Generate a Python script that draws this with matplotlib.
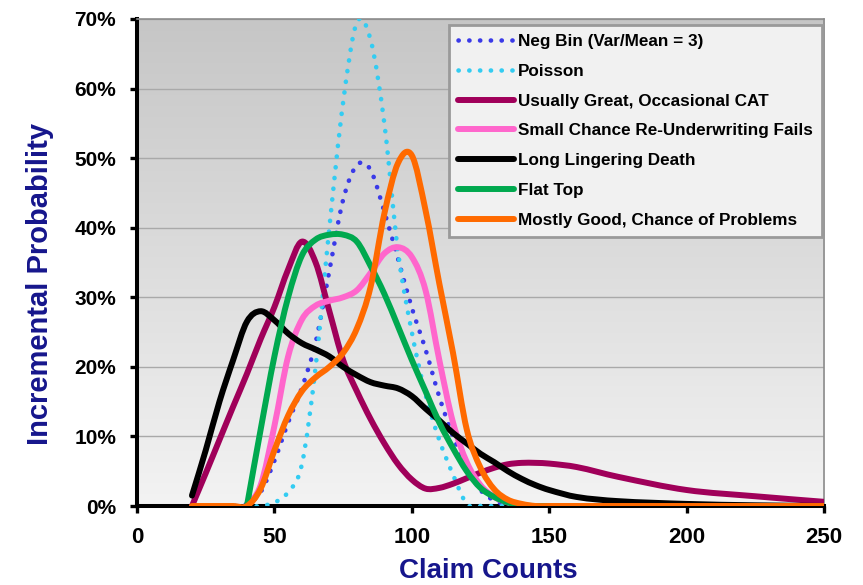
import numpy as np
import matplotlib
matplotlib.use("Agg")
import matplotlib.pyplot as plt
from matplotlib.path import Path
from matplotlib.patches import PathPatch
from matplotlib.lines import Line2D
from matplotlib.colors import LinearSegmentedColormap
from matplotlib import ticker as mticker

# claim counts at which the curves were read (percent values below)
claim_counts = [20, 25, 30, 35, 40, 45, 50, 55, 60, 65, 70, 75, 80, 85, 90, 95,
                100, 105, 110, 115, 120, 125, 130, 135, 140, 145, 150, 160, 175, 200, 225, 250]
nan = np.nan

neg_bin = [0, 0, 0, 0, 0.3, 2, 6.5, 12, 17, 23.5, 33.8, 44, 49, 48.3, 42.3, 35.5,
           28.5, 22.5, 15.7, 10, 5.6, 2.3, 0.8, 0.2, 0, 0, 0, 0, nan, nan, nan, nan]
poisson = [0, 0, 0, 0, 0, 0, 0.5, 2, 6, 20, 40, 58, 69.5, 67, 55, 36.5,
           25, 16, 9.5, 4.5, 0.3, 0, 0, 0, 0, 0, 0, 0, nan, nan, nan, nan]
usually_great = [0, 4.7, 9.5, 14.3, 19, 24, 28.6, 34, 38, 35, 28, 21, 16.5, 12.5, 9, 6,
                 3.8, 2.5, 2.6, 3.2, 4, 4.8, 5.5, 6, 6.2, 6.2, 6.1, 5.6, 4.2, 2.3, 1.4, 0.6]
small_chance = [nan, nan, nan, nan, 0, 3, 11.5, 21.5, 26.8, 28.8, 29.5, 30, 31, 33.5, 36.3, 37.2,
                35.8, 31, 21, 12, 6.3, 3, 1.3, 0.5, 0, 0, 0, 0, nan, nan, nan, nan]
long_lingering = [1.5, 8, 15, 21, 26.5, 28, 26.7, 24.8, 23.4, 22.5, 21.5, 20, 18.8, 17.8, 17.3, 16.9,
                  15.8, 14, 12.3, 10.5, 9, 7.5, 6.3, 5, 3.9, 3, 2.3, 1.3, 0.7, 0.3, 0.1, 0]
flat_top = [nan, nan, nan, nan, 0, 11, 21.5, 30, 36, 38.3, 39, 39, 38, 34.5, 30.5, 25.8,
            21, 16.5, 12, 8.3, 5, 2.6, 1.3, 0.5, 0.1, 0, 0, 0, nan, nan, nan, nan]
mostly_good = [0, 0, 0, 0, 0, 2.5, 8, 13, 16.5, 18.5, 20, 22, 25.5, 31.5, 42, 49.3,
               50.4, 42.5, 32, 22, 11, 5.5, 2.4, 0.9, 0.3, 0, 0, 0, 0, 0, 0, 0]

series = [
    ("Neg Bin (Var/Mean = 3)", neg_bin, "#3A3AE8", "dot"),
    ("Poisson", poisson, "#33CCF2", "dot"),
    ("Usually Great, Occasional CAT", usually_great, "#A0005A", "solid"),
    ("Small Chance Re-Underwriting Fails", small_chance, "#FF66CC", "solid"),
    ("Long Lingering Death", long_lingering, "#000000", "solid"),
    ("Flat Top", flat_top, "#00A94F", "solid"),
    ("Mostly Good, Chance of Problems", mostly_good, "#FF6A00", "solid"),
]


def smooth_path(xs, ys):
    # smoothed line through the points (like Excel "smoothed line"), as bezier path
    xs = np.asarray(xs, float)
    ys = np.asarray(ys, float)
    ok = ~np.isnan(ys)
    xs, ys = xs[ok], ys[ok]
    h = np.diff(xs)
    m = np.zeros(len(xs))
    m[0] = (ys[1] - ys[0]) / h[0]
    m[-1] = (ys[-1] - ys[-2]) / h[-1]
    for k in range(1, len(xs) - 1):
        m[k] = (ys[k + 1] - ys[k - 1]) / (xs[k + 1] - xs[k - 1])
    verts = [(xs[0], ys[0])]
    codes = [Path.MOVETO]
    for k in range(len(xs) - 1):
        verts += [(xs[k] + h[k] / 3, ys[k] + m[k] * h[k] / 3),
                  (xs[k + 1] - h[k] / 3, ys[k + 1] - m[k + 1] * h[k] / 3),
                  (xs[k + 1], ys[k + 1])]
        codes += [Path.CURVE4] * 3
    return Path(verts, codes)


plt.rcParams['font.family'] = ['Liberation Sans', 'DejaVu Sans']
fig = plt.figure(figsize=(8.63, 5.85), dpi=100)
ax = fig.add_axes([137 / 863, 1 - 506 / 585, 687 / 863, 487 / 585])

# gray gradient background
grad = LinearSegmentedColormap.from_list("bg", ["#F3F3F3", "#C6C6C6"])
ax.imshow(np.linspace(0, 1, 256)[:, None], extent=[0, 250, 0, 70], origin='lower',
          aspect='auto', cmap=grad, zorder=0)

dot_style = (0, (0.05, 2.3))
handles = []
for label, vals, color, kind in series:
    if kind == "dot":
        ls, lw = dot_style, 3.3
    else:
        ls, lw = "solid", 4.3
    patch = PathPatch(smooth_path(claim_counts, vals), fill=False, edgecolor=color,
                      lw=lw, linestyle=ls, capstyle='round', joinstyle='round', zorder=3)
    ax.add_patch(patch)
    handles.append(Line2D([], [], color=color, lw=lw, linestyle=ls,
                          dash_capstyle='round', solid_capstyle='round'))

ax.set_xlim(0, 250)
ax.set_ylim(0, 70)
ax.set_xticks([0, 50, 100, 150, 200, 250])
ax.set_yticks(np.arange(0, 71, 10))
ax.yaxis.set_major_formatter(mticker.FuncFormatter(lambda v, p: "%d%%" % v))
ax.yaxis.grid(True, color="#A9A9A9", lw=1.0)
ax.set_axisbelow(True)

for side in ["left", "bottom"]:
    ax.spines[side].set_linewidth(2.9)
    ax.spines[side].set_color("black")
for side in ["top", "right"]:
    ax.spines[side].set_linewidth(1.2)
    ax.spines[side].set_color("#8C8C8C")

ax.tick_params(axis='y', direction='out', length=5, width=2.4, pad=10, labelsize=15)
ax.tick_params(axis='x', direction='out', length=5, width=2.4, pad=10, labelsize=16)
for t in ax.get_xticklabels() + ax.get_yticklabels():
    t.set_fontweight('bold')

ax.set_xlabel("Claim Counts", fontsize=20, fontweight='bold', color="#16168C")
ax.xaxis.set_label_coords(0.512, -0.107, transform=ax.transAxes)
ax.xaxis.label.set_va('top')
ax.set_ylabel("Incremental Probability", fontsize=21, fontweight='bold', color="#16168C")
ax.yaxis.set_label_coords(-0.121, 0.455, transform=ax.transAxes)

leg = ax.legend(handles, [s[0] for s in series], loc='upper right',
                bbox_to_anchor=((822 - 137) / 687, (506 - 25) / 487), borderaxespad=0,
                prop={'weight': 'bold', 'size': 12.3},
                handlelength=3.3, handletextpad=0.2, labelspacing=0.86, borderpad=0.55,
                fancybox=False, framealpha=1, facecolor="#F1F1F1", edgecolor="#9A9A9A")
leg.get_frame().set_linewidth(2.0)
leg.set_zorder(5)

fig.savefig("out.png", dpi=100)
